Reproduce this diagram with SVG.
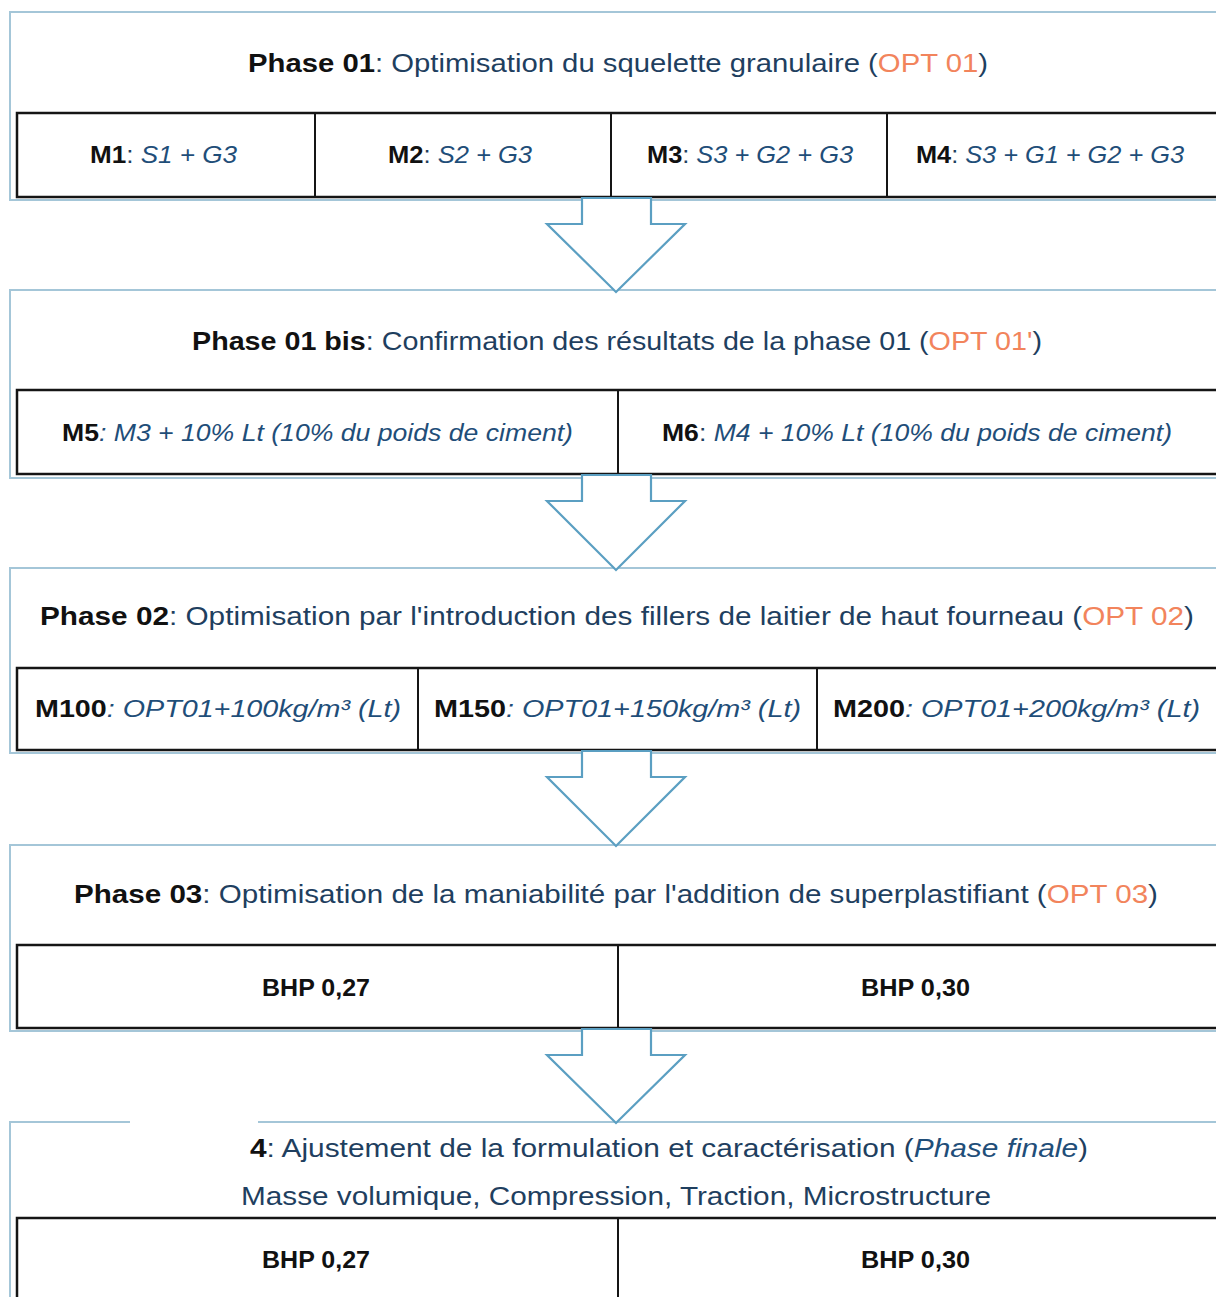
<svg xmlns="http://www.w3.org/2000/svg" width="1216" height="1297" viewBox="0 0 1216 1297">
<style>
.outer{fill:#ffffff;stroke:#a4c6d8;stroke-width:2}
.row{fill:#ffffff;stroke:#151515;stroke-width:2.5}
.div{stroke:#151515;stroke-width:2}
.arrow{fill:#ffffff;stroke:#5b9fc2;stroke-width:2.2;stroke-linejoin:miter}
text{font-family:"Liberation Sans",Arial,sans-serif;fill:#1f3f5f}
.h{font-size:26px}
.c{font-size:24px}
.b{font-weight:bold;fill:#111111}
.i{font-style:italic;fill:#1f4e79}
.o{fill:#f2845c}
</style>

<g id="phase01">
<rect class="outer" x="10" y="12" width="1215" height="188"/>
<text class="h" x="248" y="72" textLength="740" lengthAdjust="spacingAndGlyphs"><tspan class="b">Phase 01</tspan>: Optimisation du squelette granulaire (<tspan class="o">OPT 01</tspan>)</text>
<rect class="row" x="17" y="113" width="1208" height="84"/>
<line class="div" x1="315" y1="113" x2="315" y2="197"/>
<line class="div" x1="611" y1="113" x2="611" y2="197"/>
<line class="div" x1="887" y1="113" x2="887" y2="197"/>
</g>
<g id="m1"><text class="c" x="90" y="163" textLength="147" lengthAdjust="spacingAndGlyphs"><tspan class="b">M1</tspan>: <tspan class="i">S1 + G3</tspan></text></g>
<g id="m2"><text class="c" x="388" y="163" textLength="144" lengthAdjust="spacingAndGlyphs"><tspan class="b">M2</tspan>: <tspan class="i">S2 + G3</tspan></text></g>
<g id="m3"><text class="c" x="647" y="163" textLength="206" lengthAdjust="spacingAndGlyphs"><tspan class="b">M3</tspan>: <tspan class="i">S3 + G2 + G3</tspan></text></g>
<g id="m4"><text class="c" x="916" y="163" textLength="268" lengthAdjust="spacingAndGlyphs"><tspan class="b">M4</tspan>: <tspan class="i">S3 + G1 + G2 + G3</tspan></text></g>

<g id="phase01bis">
<rect class="outer" x="10" y="290" width="1215" height="188"/>
<text class="h" x="192" y="350" textLength="850" lengthAdjust="spacingAndGlyphs"><tspan class="b">Phase 01 bis</tspan>: Confirmation  des résultats de la phase 01 (<tspan class="o">OPT 01'</tspan>)</text>
<rect class="row" x="17" y="390" width="1208" height="84"/>
<line class="div" x1="618" y1="390" x2="618" y2="474"/>
</g>
<g id="m5"><text class="c" x="62" y="441" textLength="511" lengthAdjust="spacingAndGlyphs"><tspan class="b">M5</tspan><tspan class="i">: M3 + 10% Lt (10% du poids de ciment)</tspan></text></g>
<g id="m6"><text class="c" x="662" y="441" textLength="510" lengthAdjust="spacingAndGlyphs"><tspan class="b">M6</tspan>: <tspan class="i">M4 + 10% Lt (10% du poids de ciment)</tspan></text></g>

<g id="phase02">
<rect class="outer" x="10" y="568" width="1215" height="185"/>
<text class="h" x="40" y="625" textLength="1154" lengthAdjust="spacingAndGlyphs"><tspan class="b">Phase 02</tspan>: Optimisation par  l'introduction  des fillers  de laitier de  haut fourneau (<tspan class="o">OPT 02</tspan>)</text>
<rect class="row" x="17" y="668" width="1208" height="82"/>
<line class="div" x1="418" y1="668" x2="418" y2="750"/>
<line class="div" x1="817" y1="668" x2="817" y2="750"/>
</g>
<g id="m100"><text class="c" x="35" y="717" textLength="366" lengthAdjust="spacingAndGlyphs"><tspan class="b">M100</tspan><tspan class="i">: OPT01+100kg/m³  (Lt)</tspan></text></g>
<g id="m150"><text class="c" x="434" y="717" textLength="367" lengthAdjust="spacingAndGlyphs"><tspan class="b">M150</tspan><tspan class="i">: OPT01+150kg/m³  (Lt)</tspan></text></g>
<g id="m200"><text class="c" x="833" y="717" textLength="367" lengthAdjust="spacingAndGlyphs"><tspan class="b">M200</tspan><tspan class="i">: OPT01+200kg/m³  (Lt)</tspan></text></g>

<g id="phase03">
<rect class="outer" x="10" y="845" width="1215" height="186"/>
<text class="h" x="74" y="903" textLength="1084" lengthAdjust="spacingAndGlyphs"><tspan class="b">Phase 03</tspan>: Optimisation de  la maniabilité  par l'addition  de superplastifiant (<tspan class="o">OPT 03</tspan>)</text>
<rect class="row" x="17" y="945" width="1208" height="83"/>
<line class="div" x1="618" y1="945" x2="618" y2="1028"/>
</g>
<g id="bhp027a"><text class="c" x="262" y="996" textLength="108" lengthAdjust="spacingAndGlyphs"><tspan class="b">BHP 0,27</tspan></text></g>
<g id="bhp030a"><text class="c" x="861" y="996" textLength="109" lengthAdjust="spacingAndGlyphs"><tspan class="b">BHP 0,30</tspan></text></g>

<g id="phase04">
<rect class="outer" x="10" y="1122" width="1215" height="190"/>
<text class="h" x="250" y="1157" textLength="838" lengthAdjust="spacingAndGlyphs"><tspan class="b">4</tspan>: Ajustement de la formulation  et caractérisation (<tspan class="i">Phase  finale</tspan>)</text>
<text class="h" x="241" y="1205" textLength="750" lengthAdjust="spacingAndGlyphs">Masse volumique,  Compression,  Traction,  Microstructure</text>
<rect class="row" x="17" y="1218" width="1208" height="90"/>
<line class="div" x1="618" y1="1218" x2="618" y2="1300"/>
</g>
<g id="bhp027b"><text class="c" x="262" y="1268" textLength="108" lengthAdjust="spacingAndGlyphs"><tspan class="b">BHP 0,27</tspan></text></g>
<g id="bhp030b"><text class="c" x="861" y="1268" textLength="109" lengthAdjust="spacingAndGlyphs"><tspan class="b">BHP 0,30</tspan></text></g>

<g id="connectors">
<path class="arrow" d="M582,198 L651,198 L651,224 L685,224 L616,292 L547,224 L582,224 Z"/>
<path class="arrow" d="M582,475 L651,475 L651,501 L685,501 L616,570 L547,501 L582,501 Z"/>
<path class="arrow" d="M582,751 L651,751 L651,777 L685,777 L616,846 L547,777 L582,777 Z"/>
<path class="arrow" d="M582,1029 L651,1029 L651,1055 L685,1055 L616,1123 L547,1055 L582,1055 Z"/>
</g>
<rect x="130" y="1104" width="128" height="30" fill="#ffffff"/>
</svg>
